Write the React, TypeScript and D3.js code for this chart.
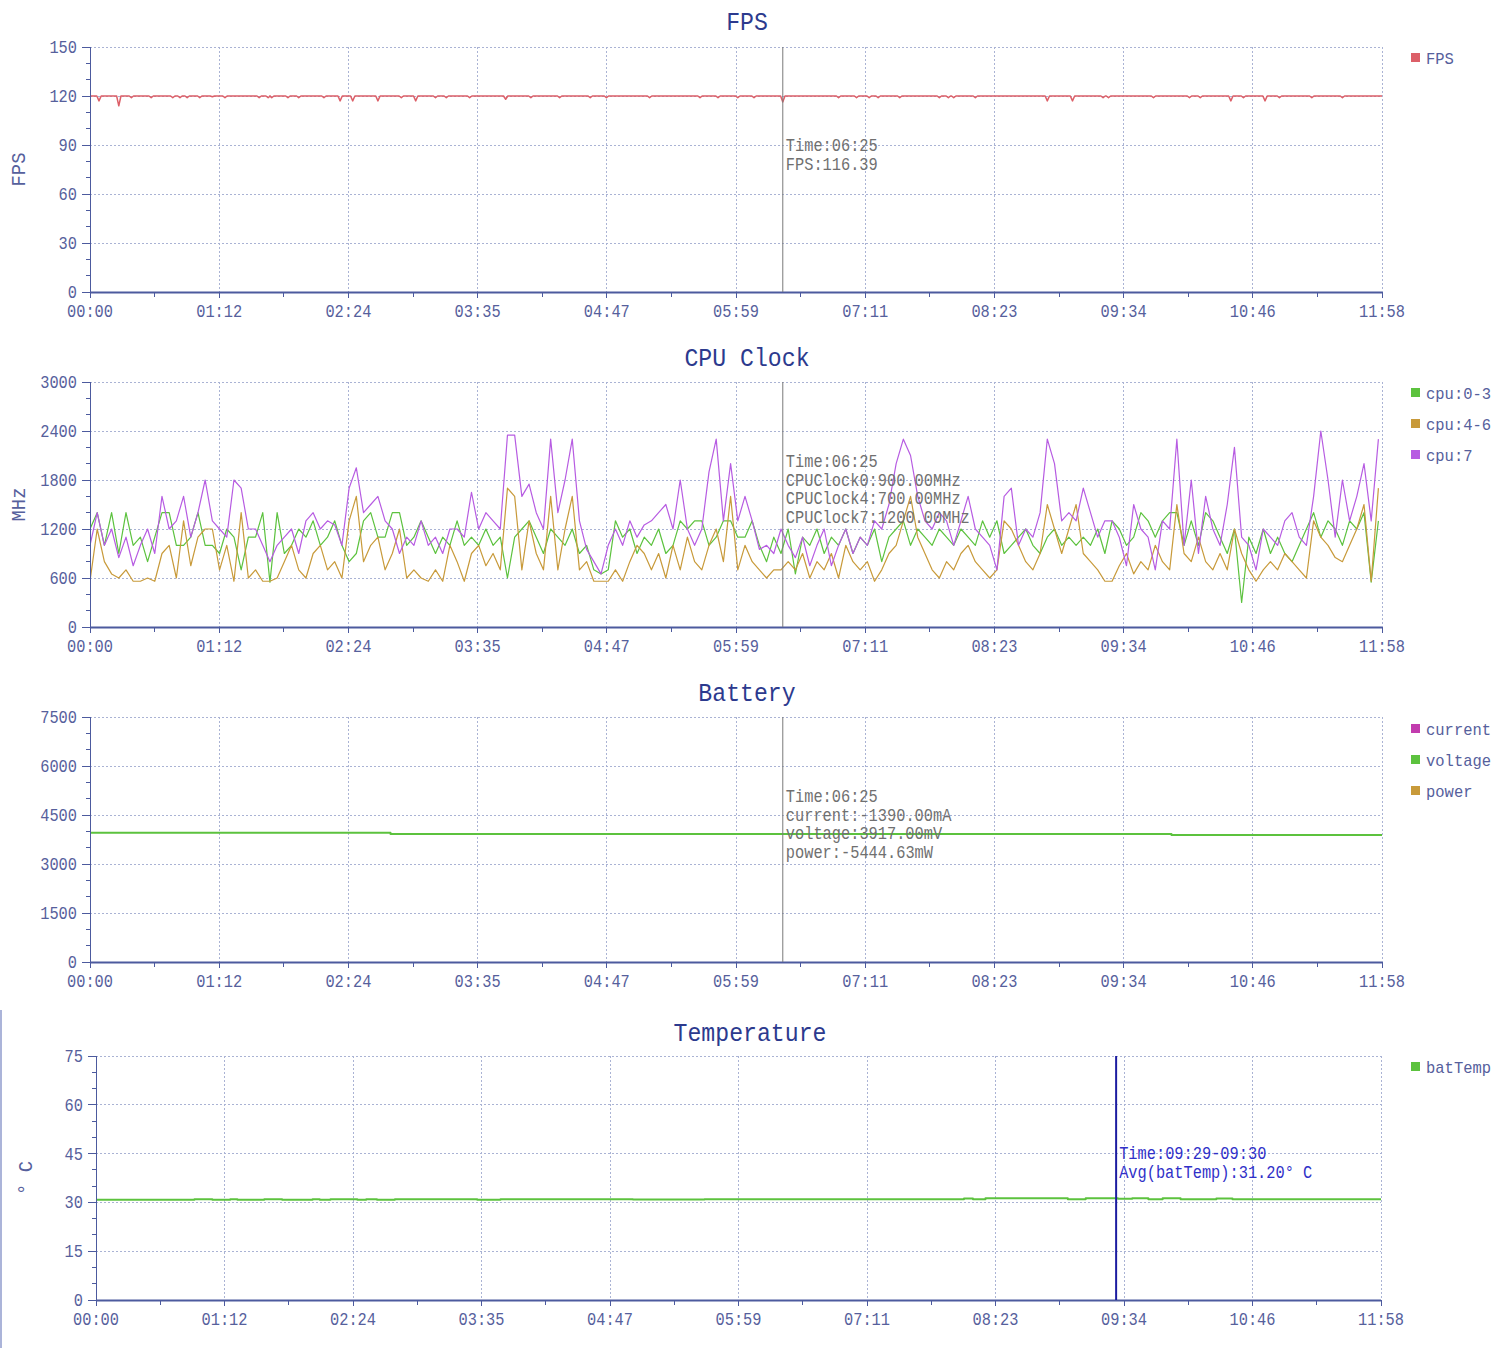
import React, { useEffect, useRef } from 'react';
import * as d3 from 'd3';

const WIDTH = 1500;
const HEIGHT = 1348;
const DURATION = 718; // seconds, 00:00 - 11:58

const X_TICK_LABELS = ['00:00', '01:12', '02:24', '03:35', '04:47', '05:59', '07:11', '08:23', '09:34', '10:46', '11:58'];

// FPS: sits on 120 with short dips
const FPS_BASE = 120;
const FPS_DIP_TIMES = [5, 16, 23, 34, 46, 50, 54, 61, 68, 75, 94, 99, 101, 110, 116, 130, 139, 146, 160, 173, 181, 192, 198, 211, 231, 245, 261, 278, 287, 311, 339, 349, 360, 369, 385, 416, 426, 433, 438, 450, 472, 477, 480, 492, 532, 546, 563, 566, 591, 611, 617, 634, 641, 653, 661, 679, 696];
const FPS_DIP_VALUES = [117, 114, 119, 119, 119, 119, 119, 119, 119.5, 119, 119, 119, 119, 119, 119, 119, 117, 117, 117, 119, 117, 119, 119, 119, 118, 119, 119, 119, 119, 119, 119, 119, 119, 119, 116.39, 119, 119, 119, 119, 119, 119, 119, 119, 119, 117, 117, 119, 119, 119, 119, 119, 117, 119, 117, 119, 119, 119];

// CPU clocks, one reading every 4 s
const CPU_TIMES = d3.range(0, DURATION, 4);
const CPU_0_3 = [
  1200, 1400, 1000, 1400, 900, 1400, 1000, 1100, 800, 1100, 1400, 1400, 1000, 1000, 1100, 1400, 1000, 1000, 900, 1200, 1100, 700, 1100, 1100, 1400, 550, 1400, 900, 1000, 1200, 1100, 1300, 1000, 1100, 1300, 1000, 800, 900, 1300, 1400, 1100, 1100, 1400, 1400, 1000, 1100,
  1300, 1100, 900, 1100, 1000, 1300, 1000, 1100, 1000, 1200, 1000, 1100, 600, 1100, 1200, 1300, 1100, 900, 1200, 1100, 1000, 1200, 900, 1000, 700, 650, 700, 1300, 1100, 1200, 900, 1100, 1000, 1200, 900, 1000, 1300, 1200, 1300, 1300, 1000, 1100, 1300, 1300, 1100,
  1100, 1300, 1000, 800, 1100, 900, 1200, 650, 1100, 1000, 1200, 900, 1100, 1000, 1200, 900, 1100, 1000, 1200, 800, 1100, 1200, 1300, 1000, 1200, 1100, 1000, 1200, 1100, 1000, 1200, 1100, 1000, 1300, 1100, 1300, 900, 1000, 1100, 1200, 1000, 900, 1100, 1200, 1000,
  1100, 1000, 1100, 1000, 1200, 900, 1300, 1200, 1000, 1100, 1400, 1300, 1100, 1300, 1400, 1400, 1000, 1300, 1000, 1400, 1300, 1100, 900, 1200, 300, 1100, 900, 1200, 900, 1100, 900, 800, 1000, 1200, 1400, 1100, 1300, 1200, 1000, 1300, 1200, 1400, 550, 1300,
];
const CPU_4_6 = [
  560, 1200, 800, 650, 600, 700, 560, 560, 600, 560, 900, 1000, 600, 1300, 750, 1100, 1200, 1200, 700, 1000, 560, 1400, 600, 700, 560, 560, 600, 800, 1000, 700, 600, 900, 1000, 700, 800, 600, 1300, 1600, 800, 1000, 1100, 700, 900, 1200, 600, 700,
  600, 560, 700, 560, 1000, 800, 560, 900, 1000, 750, 900, 700, 1700, 1600, 700, 1300, 900, 700, 1600, 700, 1200, 1600, 700, 800, 560, 560, 560, 700, 560, 800, 1000, 900, 700, 900, 600, 1000, 700, 1100, 800, 700, 1000, 1200, 800, 1600, 700,
  1000, 800, 700, 600, 700, 700, 800, 700, 900, 600, 800, 700, 900, 600, 1000, 800, 700, 800, 560, 700, 900, 1000, 1300, 1600, 1100, 900, 700, 600, 800, 700, 900, 1000, 800, 700, 600, 700, 1300, 1200, 1000, 800, 700, 900, 1500, 1200, 900,
  1200, 1500, 900, 800, 700, 560, 560, 750, 900, 650, 800, 700, 1000, 800, 700, 1500, 900, 800, 1100, 800, 700, 900, 700, 1200, 900, 700, 560, 700, 800, 700, 900, 800, 700, 600, 1300, 1100, 1000, 850, 800, 1000, 1200, 1500, 560, 1700,
];
const CPU_7 = [
  1000, 1400, 1000, 1200, 850, 1100, 750, 1000, 1200, 900, 1600, 1200, 1300, 1600, 1100, 1400, 1800, 1300, 1200, 1100, 1800, 1700, 1200, 1200, 1000, 800, 1000, 1100, 1200, 900, 1300, 1400, 1200, 1300, 1250, 1000, 1700, 1950, 1400, 1500, 1600, 1300, 1200, 900, 1100, 1000,
  1300, 1000, 1100, 900, 1200, 1200, 1100, 1650, 1200, 1400, 1300, 1200, 2350, 2350, 1600, 1750, 1400, 1200, 2300, 1400, 1800, 2300, 1300, 950, 800, 650, 1000, 1200, 1000, 1300, 1100, 1250, 1300, 1400, 1500, 1200, 1800, 1200, 1000, 1200, 1900, 2300, 1300, 2000, 1300,
  1600, 1300, 950, 1000, 900, 1200, 1000, 850, 1100, 750, 1000, 1200, 750, 1000, 1200, 900, 1100, 1000, 1300, 1200, 1500, 2000, 2300, 2100, 1600, 1300, 1200, 1400, 1300, 1000, 1300, 1600, 1200, 1100, 1000, 700, 1600, 1700, 1000, 1200, 1100, 1400, 2300, 2000, 1300,
  1400, 1300, 1700, 1400, 1100, 1300, 1300, 1100, 750, 1500, 1200, 1100, 700, 1300, 1200, 2300, 1000, 1800, 900, 1600, 1200, 1000, 1500, 2200, 1100, 1000, 700, 1200, 1100, 1000, 1300, 1400, 1100, 1000, 1600, 2400, 1800, 1100, 1800, 1300, 1600, 2000, 1300, 2300,
];

// Battery (current and power are negative, below the visible range)
const VOLTAGE_TIMES = [0, 167, 601, 718];
const VOLTAGE_VALUES = [3960, 3917, 3890, 3890];
const CURRENT_TIMES = [0, 718];
const CURRENT_VALUES = [-1390, -1390];
const POWER_TIMES = [0, 718];
const POWER_VALUES = [-5444.63, -5444.63];

// Battery temperature, stepped
const TEMP_TIMES = [0, 55, 65, 75, 79, 94, 104, 121, 125, 131, 146, 151, 157, 167, 213, 226, 300, 340, 485, 490, 497, 543, 553, 571, 579, 588, 596, 606, 626, 635, 718];
const TEMP_VALUES = [30.8, 31.0, 30.8, 31.0, 30.8, 31.0, 30.8, 31.0, 30.8, 31.0, 30.8, 31.0, 30.8, 31.0, 30.8, 31.0, 30.9, 31.0, 31.2, 31.0, 31.3, 31.0, 31.3, 31.1, 31.3, 31.0, 31.3, 31.0, 31.2, 31.0, 31.0];

const FONT = '"Liberation Mono", "DejaVu Sans Mono", monospace';
const AXIS_TEXT = '#56609c';
const AXIS_LINE = '#4c5a9e';
const GRID = '#aab3d4';
const TITLE = '#2c3a8e';

type Pt = [number, number];
interface Series { name: string; color: string; width: number; points: Pt[]; curve: d3.CurveFactory; }
interface Panel {
  title: string; titleX: number; titleY: number;
  top: number; bottom: number; left: number; right: number;
  yMax: number; yTicks: number[]; yMinor: number; yLabel: string;
  legendY: number; series: Series[];
  cursorT: number; cursorColor: string; cursorWidth: number;
  tipY: number; tipColor: string; tipLines: string[];
}

const zip = (ts: number[], vs: number[]): Pt[] => ts.map((t, i) => [t, vs[i]] as Pt);

const fpsPoints: Pt[] = [[0, FPS_BASE]];
FPS_DIP_TIMES.forEach((t, i) => {
  fpsPoints.push([t - 1.2, FPS_BASE], [t, FPS_DIP_VALUES[i]], [t + 1.2, FPS_BASE]);
});
fpsPoints.push([DURATION, FPS_BASE]);

const GREEN = '#5cc23e';
const GOLD = '#c89a3a';
const PURPLE = '#b75ce2';

const PANELS: Panel[] = [
  {
    title: 'FPS', titleX: 747, titleY: 30, top: 47, bottom: 292, left: 90, right: 1382,
    yMax: 150, yTicks: [0, 30, 60, 90, 120, 150], yMinor: 10, yLabel: 'FPS', legendY: 58,
    series: [{ name: 'FPS', color: '#dc5f68', width: 1.5, points: fpsPoints, curve: d3.curveLinear }],
    cursorT: 385, cursorColor: '#7a7a7a', cursorWidth: 1, tipY: 151, tipColor: '#707070',
    tipLines: ['Time:06:25', 'FPS:116.39'],
  },
  {
    title: 'CPU Clock', titleX: 747, titleY: 366, top: 382, bottom: 627, left: 90, right: 1382,
    yMax: 3000, yTicks: [0, 600, 1200, 1800, 2400, 3000], yMinor: 200, yLabel: 'MHz', legendY: 393,
    series: [
      { name: 'cpu:0-3', color: GREEN, width: 1.2, points: zip(CPU_TIMES, CPU_0_3), curve: d3.curveLinear },
      { name: 'cpu:4-6', color: GOLD, width: 1.2, points: zip(CPU_TIMES, CPU_4_6), curve: d3.curveLinear },
      { name: 'cpu:7', color: PURPLE, width: 1.2, points: zip(CPU_TIMES, CPU_7), curve: d3.curveLinear },
    ],
    cursorT: 385, cursorColor: '#7a7a7a', cursorWidth: 1, tipY: 467, tipColor: '#707070',
    tipLines: ['Time:06:25', 'CPUClock0:900.00MHz', 'CPUClock4:700.00MHz', 'CPUClock7:1200.00MHz'],
  },
  {
    title: 'Battery', titleX: 747, titleY: 701, top: 717, bottom: 962, left: 90, right: 1382,
    yMax: 7500, yTicks: [0, 1500, 3000, 4500, 6000, 7500], yMinor: 500, yLabel: '', legendY: 729,
    series: [
      { name: 'current', color: '#c23cae', width: 2, points: zip(CURRENT_TIMES, CURRENT_VALUES), curve: d3.curveStepAfter },
      { name: 'voltage', color: GREEN, width: 2, points: zip(VOLTAGE_TIMES, VOLTAGE_VALUES), curve: d3.curveStepAfter },
      { name: 'power', color: GOLD, width: 2, points: zip(POWER_TIMES, POWER_VALUES), curve: d3.curveStepAfter },
    ],
    cursorT: 385, cursorColor: '#7a7a7a', cursorWidth: 1, tipY: 802, tipColor: '#707070',
    tipLines: ['Time:06:25', 'current:-1390.00mA', 'voltage:3917.00mV', 'power:-5444.63mW'],
  },
  {
    title: 'Temperature', titleX: 750, titleY: 1041, top: 1056, bottom: 1300, left: 96, right: 1381,
    yMax: 75, yTicks: [0, 15, 30, 45, 60, 75], yMinor: 5, yLabel: '° C', legendY: 1067,
    series: [{ name: 'batTemp', color: GREEN, width: 2, points: zip(TEMP_TIMES, TEMP_VALUES), curve: d3.curveStepAfter }],
    cursorT: 570, cursorColor: '#1c1ca0', cursorWidth: 2, tipY: 1159, tipColor: '#3030c8',
    tipLines: ['Time:09:29-09:30', 'Avg(batTemp):31.20° C'],
  },
];

type Sel = d3.Selection<SVGGElement, unknown, null, undefined>;

function addText(g: Sel, x: number, y: number, str: string, size: number, charW: number, color: string, anchor = 'start') {
  return g.append('text')
    .attr('x', x)
    .attr('y', y)
    .attr('font-family', FONT)
    .attr('font-size', size)
    .attr('fill', color)
    .attr('text-anchor', anchor)
    .attr('textLength', str.length * charW)
    .attr('lengthAdjust', 'spacingAndGlyphs')
    .text(str);
}

const App: React.FC = () => {
  const svgRef = useRef<SVGSVGElement>(null);

  useEffect(() => {
    if (!svgRef.current) return;
    const svg = d3.select(svgRef.current);
    svg.selectAll('*').remove();
    const root = svg.append('g') as unknown as Sel;

    // panel border left of the temperature chart
    root.append('line')
      .attr('x1', 1).attr('x2', 1).attr('y1', 1010).attr('y2', HEIGHT)
      .attr('stroke', '#8f9bcc').attr('stroke-width', 1.5);

    PANELS.forEach((p, pi) => {
      const g = root.append('g');
      const x = d3.scaleLinear().domain([0, DURATION]).range([p.left, p.right]);
      const y = d3.scaleLinear().domain([0, p.yMax]).range([p.bottom, p.top]);
      const step = DURATION / (X_TICK_LABELS.length - 1);

      // grid
      p.yTicks.forEach((v) => {
        if (v === 0) return;
        g.append('line')
          .attr('x1', p.left).attr('x2', p.right).attr('y1', y(v)).attr('y2', y(v))
          .attr('stroke', GRID).attr('stroke-dasharray', '2,2').attr('shape-rendering', 'crispEdges');
      });
      X_TICK_LABELS.forEach((_, i) => {
        if (i === 0) return;
        g.append('line')
          .attr('x1', x(i * step)).attr('x2', x(i * step)).attr('y1', p.top).attr('y2', p.bottom)
          .attr('stroke', GRID).attr('stroke-dasharray', '2,2').attr('shape-rendering', 'crispEdges');
      });

      // series
      const clipId = `clip-${pi}`;
      svg.append('defs').append('clipPath').attr('id', clipId)
        .append('rect').attr('x', p.left).attr('y', p.top - 2).attr('width', p.right - p.left).attr('height', p.bottom - p.top + 1);
      const lineGen = d3.line<Pt>().x((d) => x(d[0])).y((d) => y(d[1]));
      p.series.forEach((s) => {
        g.append('path')
          .attr('d', lineGen.curve(s.curve)(s.points)!)
          .attr('fill', 'none')
          .attr('stroke', s.color)
          .attr('stroke-width', s.width)
          .attr('stroke-linejoin', 'round')
          .attr('clip-path', `url(#${clipId})`);
      });

      // axes
      g.append('line')
        .attr('x1', p.left).attr('x2', p.left).attr('y1', p.top).attr('y2', p.bottom)
        .attr('stroke', AXIS_LINE).attr('stroke-width', 1).attr('shape-rendering', 'crispEdges');
      g.append('line')
        .attr('x1', p.left).attr('x2', p.right).attr('y1', p.bottom + 0.5).attr('y2', p.bottom + 0.5)
        .attr('stroke', AXIS_LINE).attr('stroke-width', 2);

      d3.range(0, p.yMax + 1e-6, p.yMinor).forEach((v) => {
        const major = p.yTicks.includes(v);
        g.append('line')
          .attr('x1', p.left - (major ? 8 : 4)).attr('x2', p.left).attr('y1', y(v)).attr('y2', y(v))
          .attr('stroke', AXIS_LINE).attr('shape-rendering', 'crispEdges');
      });
      p.yTicks.forEach((v) => {
        addText(g, p.left - 13, y(v) + 6, String(v), 18, 9.2, AXIS_TEXT, 'end');
      });

      X_TICK_LABELS.forEach((lab, i) => {
        const tx = x(i * step);
        g.append('line')
          .attr('x1', tx).attr('x2', tx).attr('y1', p.bottom).attr('y2', p.bottom + 6)
          .attr('stroke', AXIS_LINE).attr('shape-rendering', 'crispEdges');
        if (i < X_TICK_LABELS.length - 1) {
          const mx = x((i + 0.5) * step);
          g.append('line')
            .attr('x1', mx).attr('x2', mx).attr('y1', p.bottom).attr('y2', p.bottom + 5)
            .attr('stroke', AXIS_LINE).attr('shape-rendering', 'crispEdges');
        }
        addText(g, tx, p.bottom + 25, lab, 18, 9.2, AXIS_TEXT, 'middle');
      });

      if (p.yLabel) {
        const lx = pi === 3 ? 25 : 18;
        const ly = (p.top + p.bottom) / 2;
        addText(g, 0, 0, p.yLabel, 20, 11.3, AXIS_TEXT, 'middle')
          .attr('transform', `translate(${lx + 7},${ly}) rotate(-90)`);
      }

      // title
      addText(g, p.titleX, p.titleY, p.title, 26, 13.9, TITLE, 'middle');

      // legend
      p.series.forEach((s, i) => {
        const ly = p.legendY + i * 31;
        g.append('rect').attr('x', 1411).attr('y', ly - 5).attr('width', 9).attr('height', 9).attr('fill', s.color);
        addText(g, 1426, ly + 6, s.name, 17, 9.3, AXIS_TEXT);
      });

      // cursor + tooltip
      const cx = x(p.cursorT);
      g.append('line')
        .attr('x1', cx).attr('x2', cx).attr('y1', p.top).attr('y2', p.bottom)
        .attr('stroke', p.cursorColor).attr('stroke-width', p.cursorWidth);
      p.tipLines.forEach((ln, i) => {
        addText(g, cx + 3, p.tipY + i * 18.7, ln, 18, 9.2, p.tipColor);
      });
    });
  }, []);

  return (
    <svg
      ref={svgRef}
      width={WIDTH}
      height={HEIGHT}
      style={{ position: 'absolute', left: 0, top: 0, display: 'block', background: '#fff' }}
    />
  );
};

export default App;
